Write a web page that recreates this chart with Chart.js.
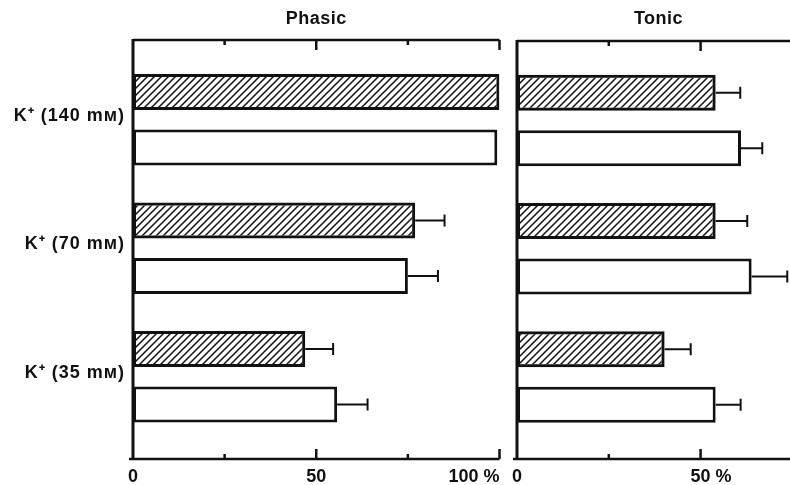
<!DOCTYPE html>
<html>
<head>
<meta charset="utf-8">
<script src="https://cdn.jsdelivr.net/npm/chart.js@4.4.0/dist/chart.umd.min.js"></script>
<style>
  html, body { margin: 0; padding: 0; background: #fff; overflow: hidden; }
  #wrap { position: relative; width: 790px; height: 485px; overflow: hidden; background: #fff; }
  #phasic-chart { position: absolute; left: 0; top: 0; }
  #tonic-chart { position: absolute; left: 505px; top: 0; }
</style>
</head>
<body>
<div id="wrap">
  <canvas id="phasic-chart" width="510" height="485"></canvas>
  <canvas id="tonic-chart" width="295" height="485"></canvas>
</div>
<script>
// Datos del gráfico
const categories = ['K\u207A (140 m\u1D0D)', 'K\u207A (70 m\u1D0D)', 'K\u207A (35 m\u1D0D)'];
const categoryPositions = [1, 2, 3];

const phasicHatched = [100, 77, 47];
const phasicHatchedErr = [0, 8, 7.6];
const phasicOpen = [99.4, 75, 55.7];
const phasicOpenErr = [0, 8.2, 8.3];

const tonicHatched = [54.1, 54.1, 40.2];
const tonicHatchedErr = [6.7, 8.6, 7.1];
const tonicOpen = [61, 63.9, 54.1];
const tonicOpenErr = [5.8, 9.7, 6.8];

const phasicTicks = [0, 25, 50, 75, 100];
const phasicTickLabels = ['0', '', '50', '', '100 %'];
const tonicTicks = [0, 25, 50];
const tonicTickLabels = ['0', '', '50 %'];

const FONT = '"Liberation Sans", Arial, sans-serif';

// Patrón rayado para las barras oscuras
function makeHatch() {
    const c = document.createElement('canvas');
    c.width = 7;
    c.height = 7;
    const ctx = c.getContext('2d');
    ctx.strokeStyle = '#111';
    ctx.lineWidth = 1.5;
    ctx.beginPath();
    ctx.moveTo(0, 7); ctx.lineTo(7, 0);
    ctx.moveTo(-1, 1); ctx.lineTo(1, -1);
    ctx.moveTo(6, 8); ctx.lineTo(8, 6);
    ctx.stroke();
    return ctx.createPattern(c, 'repeat');
}

function toPoints(values) {
    return values.map((v, i) => ({ x: v, y: categoryPositions[i] }));
}

// Barras de error (solo hacia la derecha)
const errorBarPlugin = {
    id: 'errorBars',
    afterDatasetsDraw(chart) {
        const ctx = chart.ctx;
        const xScale = chart.scales.x;
        ctx.save();
        ctx.strokeStyle = '#111';
        ctx.lineWidth = 2;
        chart.data.datasets.forEach((ds, i) => {
            const meta = chart.getDatasetMeta(i);
            meta.data.forEach((bar, j) => {
                const err = ds.errors[j];
                if (!err) return;
                const xEnd = xScale.getPixelForValue(ds.data[j].x + err);
                ctx.beginPath();
                ctx.moveTo(bar.x, bar.y);
                ctx.lineTo(xEnd, bar.y);
                ctx.moveTo(xEnd, bar.y - 6);
                ctx.lineTo(xEnd, bar.y + 6);
                ctx.stroke();
            });
        });
        ctx.restore();
    }
};

// Marco, ticks hacia dentro, etiquetas y título
const framePlugin = {
    id: 'frame',
    afterDraw(chart, args, opts) {
        const ctx = chart.ctx;
        const area = chart.chartArea;
        const xScale = chart.scales.x;
        const yScale = chart.scales.y;
        const right = opts.lineEnd || area.right;

        function line(x1, y1, x2, y2) {
            ctx.beginPath();
            ctx.moveTo(x1, y1);
            ctx.lineTo(x2, y2);
            ctx.stroke();
        }

        ctx.save();
        ctx.strokeStyle = '#111';
        ctx.fillStyle = '#111';

        ctx.lineWidth = 2.5;
        line(area.left, area.top, right, area.top);
        line(area.left - 4, area.bottom, right, area.bottom);
        ctx.lineWidth = 3;
        line(area.left, area.top - 1, area.left, area.bottom + 1);

        ctx.lineWidth = 2.5;
        ctx.font = 'bold 18px ' + FONT;
        ctx.textBaseline = 'top';
        opts.ticks.forEach((v, i) => {
            const x = xScale.getPixelForValue(v);
            const len = v % 50 === 0 ? 10 : 5;
            if (v !== 0) {
                line(x, area.top, x, area.top + len);
                line(x, area.bottom, x, area.bottom - len);
            }
            const label = opts.tickLabels[i];
            if (!label) return;
            const num = label.split(' ')[0];
            const full = ctx.measureText(label).width;
            let start = x - ctx.measureText(num).width / 2;
            if (start + full > chart.width - 2) start = x - full;
            ctx.textAlign = 'left';
            ctx.fillText(label, start, area.bottom + 9);
        });

        if (opts.categoryLabels) {
            ctx.font = 'bold 18px ' + FONT;
            ctx.letterSpacing = '1px';
            ctx.textAlign = 'right';
            ctx.textBaseline = 'middle';
            opts.categoryLabels.forEach((label, i) => {
                const y = yScale.getPixelForValue(categoryPositions[i]);
                ctx.fillText(label, area.left - 8, y - 4);
            });
        }

        ctx.font = 'bold 18px ' + FONT;
        ctx.letterSpacing = '0.5px';
        ctx.textAlign = 'center';
        ctx.textBaseline = 'middle';
        ctx.fillText(opts.title, (area.left + right) / 2, 19);
        ctx.restore();
    }
};

function buildChart(canvasId, hatchedVals, hatchedErr, openVals, openErr, xMax, padding, frame) {
    const canvas = document.getElementById(canvasId);
    const hatch = makeHatch();
    return new Chart(canvas, {
        type: 'bar',
        data: {
            datasets: [{
                data: toPoints(hatchedVals),
                errors: hatchedErr,
                backgroundColor: hatch,
                borderColor: '#111',
                borderWidth: 3,
                borderSkipped: false
            }, {
                data: toPoints(openVals),
                errors: openErr,
                backgroundColor: '#fff',
                borderColor: '#111',
                borderWidth: 3,
                borderSkipped: false
            }]
        },
        options: {
            indexAxis: 'y',
            responsive: false,
            animation: false,
            devicePixelRatio: 1,
            layout: { padding: padding },
            categoryPercentage: 0.864,
            barPercentage: 0.65,
            scales: {
                x: { type: 'linear', min: 0, max: xMax, display: false },
                y: {
                    type: 'linear', min: 0.38, max: 3.64, reverse: true, display: false,
                    offset: false,
                    grid: { offset: false },
                    afterBuildTicks: function(scale) {
                        scale.ticks = categoryPositions.map(v => ({ value: v }));
                    }
                }
            },
            plugins: {
                legend: { display: false },
                tooltip: { enabled: false },
                frame: frame
            }
        },
        plugins: [errorBarPlugin, framePlugin]
    });
}

document.addEventListener('DOMContentLoaded', function() {
    buildChart('phasic-chart', phasicHatched, phasicHatchedErr, phasicOpen, phasicOpenErr, 100,
        { left: 133, right: 10.5, top: 40, bottom: 26 },
        { title: 'Phasic', ticks: phasicTicks, tickLabels: phasicTickLabels, categoryLabels: categories });

    buildChart('tonic-chart', tonicHatched, tonicHatchedErr, tonicOpen, tonicOpenErr, 75,
        { left: 12, right: 7.6, top: 41, bottom: 26 },
        { title: 'Tonic', ticks: tonicTicks, tickLabels: tonicTickLabels, lineEnd: 295 });
});
</script>
</body>
</html>
